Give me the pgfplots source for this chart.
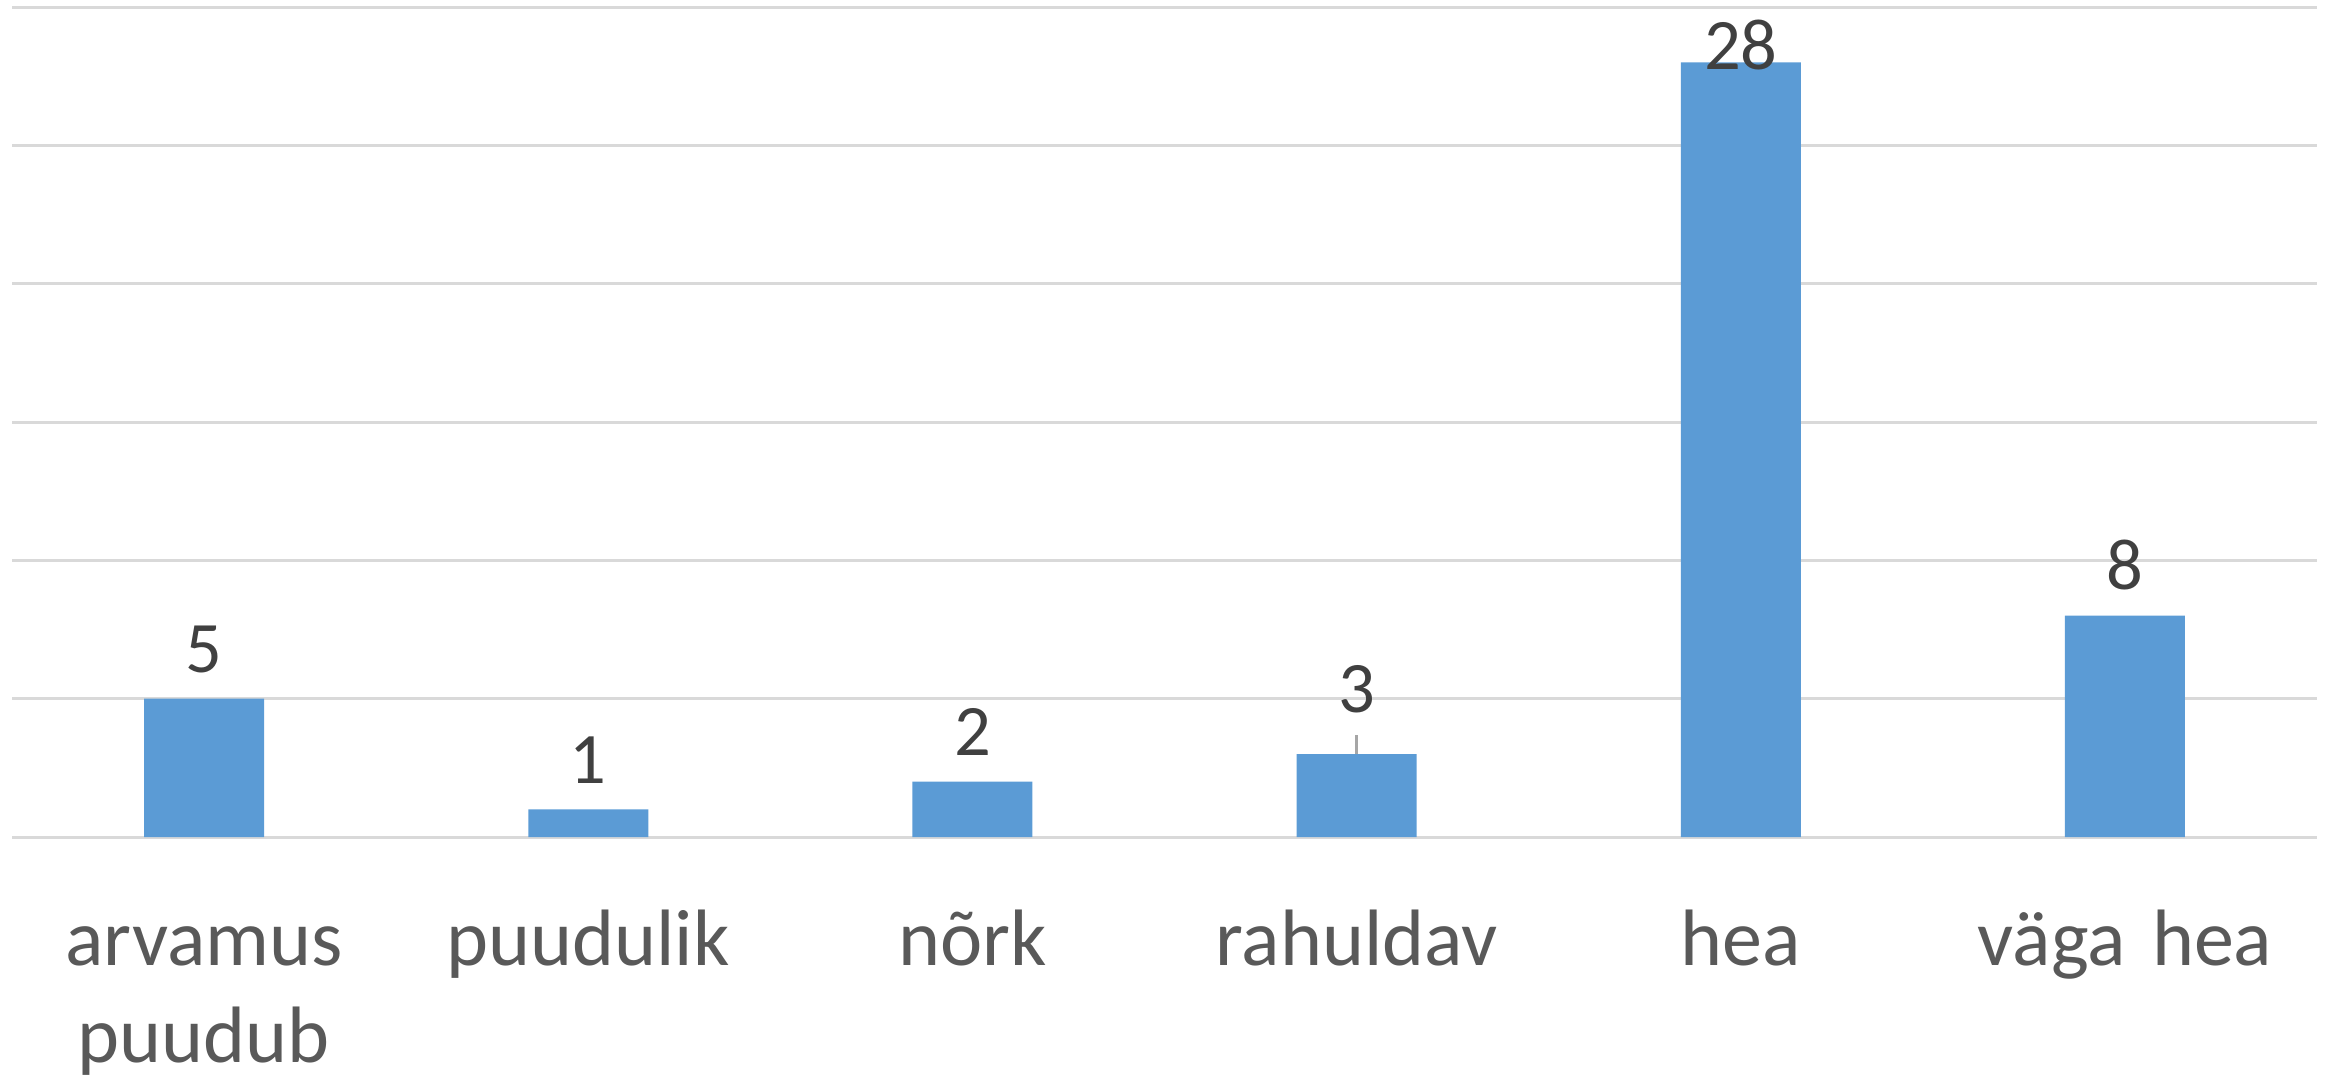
\documentclass[border=0pt]{standalone}
\usepackage{fontspec}
\setmainfont{Carlito}
\usepackage{pgfplots}
\pgfplotsset{compat=1.18}
\usepackage{pgfplotstable}

\definecolor{barblue}{HTML}{5B9BD5}
\definecolor{gridgray}{HTML}{D9D9D9}
\definecolor{ticktext}{HTML}{595959}
\definecolor{labeltext}{HTML}{404040}
\definecolor{leader}{HTML}{A6A6A6}

% x, value, extra label shift (pt)
\pgfplotstableread{
x y s
0 5 0
1 1 0
2 2 0
3 3 3
4 28 -6.8
5 8 0
}\grades

\begin{document}
\begin{tikzpicture}
\begin{axis}[
  scale only axis,
  width=461pt,
  height=166pt,
  xmin=-0.5, xmax=5.5,
  ymin=0, ymax=30,
  ytick={0,5,...,30},
  yticklabels={},
  xtick=data,
  xticklabels={arvamus\\puudub,puudulik,nõrk,rahuldav,hea,väga hea},
  xticklabel style={font=\fontsize{16}{19.4}\selectfont, text=ticktext,
    text width=90pt, align=center, anchor=base, yshift=-25.6pt},
  major tick length=0pt,
  axis line style={draw=none},
  ymajorgrids,
  major grid style={draw=gridgray, line width=0.6pt},
  ybar,
  bar width=24pt,
  nodes near coords,
  /pgf/number format/assume math mode=true,
  visualization depends on={\thisrow{s} \as \lshift},
  nodes near coords style={font=\fontsize{14.5}{17}\selectfont, text=labeltext,
    yshift=1.7pt+\lshift pt},
]
\addplot[fill=barblue, draw=none] table[x=x, y=y] {\grades};
\draw[leader, line width=0.6pt] (axis cs:3,3) -- (axis cs:3,3.69);
\end{axis}
\pgfresetboundingbox
\path ([xshift=-2.4pt,yshift=-47.6pt]current axis.south west)
  rectangle ([xshift=2.8pt,yshift=1.4pt]current axis.north east);
\end{tikzpicture}
\end{document}
